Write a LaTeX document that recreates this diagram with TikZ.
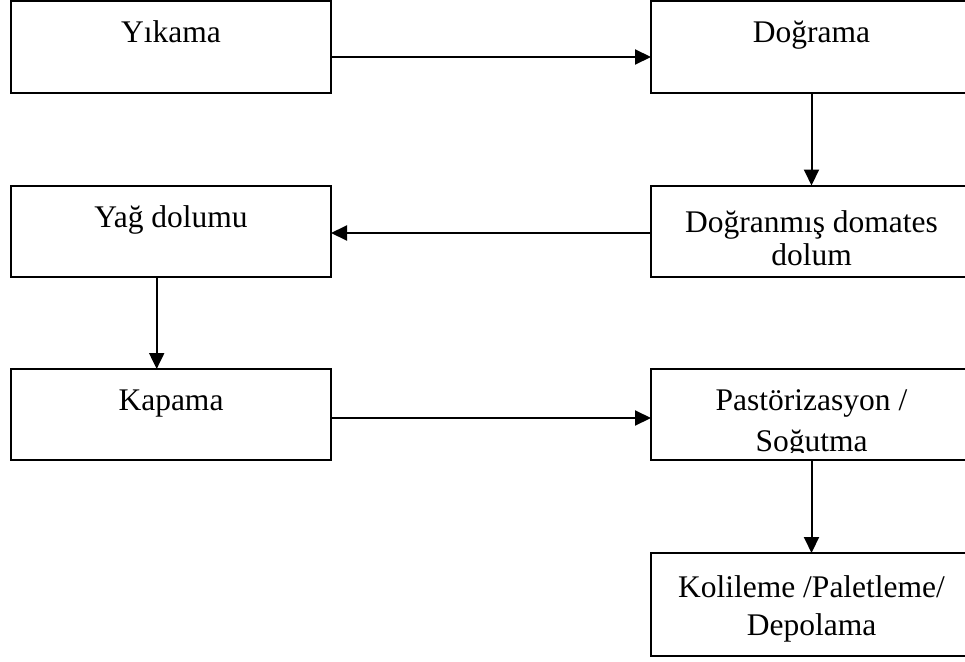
\documentclass[tikz,border=0pt]{standalone}
\usepackage{fontspec}
\setmainfont{Liberation Serif}
\usetikzlibrary{arrows.meta}
\begin{document}
\begin{tikzpicture}[x=1pt,y=-1pt,
  box/.style={draw=black,line width=2pt,rectangle,inner sep=0pt,outer sep=0pt,anchor=north west,minimum height=91pt},
  lbox/.style={box,minimum width=320pt},
  rbox/.style={box,minimum width=321pt},
  txt/.style={inner sep=0pt,anchor=base,font=\fontsize{31.5}{33}\selectfont},
  arr/.style={line width=2pt,-{Triangle[length=16pt,width=15pt]}}]
\useasboundingbox (0,0) rectangle (965,661);
\fill[white] (0,0) rectangle (965,661);
% boxes
\node[lbox] (yik) at (11,1.5) {};
\node[rbox] (dog) at (651,1.5) {};
\node[lbox] (yag) at (11,185.5) {};
\node[rbox] (dogd) at (651,185.5) {};
\node[lbox] (kap) at (11,369) {};
\node[rbox] (pas) at (651,369) {};
\node[rbox,minimum height=103pt] (kol) at (651,553) {};
% texts
\node[txt] (tyik) at (171,42) {Yıkama};
\node[txt] (tdog) at (811.5,42) {Doğrama};
\node[txt] (tyag) at (171,227) {Yağ dolumu};
\node[txt] (tdogda) at (811.5,232) {Doğranmış domates};
\node[txt] (tdogdb) at (811.5,265) {dolum};
\node[txt] (tkap) at (171,410) {Kapama};
\node[txt] (tpasa) at (811.5,410) {Pastörizasyon /};
\begin{scope}
\clip (640,369) rectangle (972,452.8);
\node[txt] (tpasb) at (811.5,451.5) {Soğutma};
\end{scope}
\node[txt] (tkola) at (811.5,597) {Kolileme /Paletleme/};
\node[txt] (tkolb) at (811.5,635.5) {Depolama};
% arrows
\draw[arr] ([yshift=-10pt]yik.east) -- ([yshift=-10pt]dog.west);
\draw[arr] (dog.south) -- (dogd.north);
\draw[arr] ([yshift=-2pt]dogd.west) -- ([yshift=-2pt]yag.east);
\draw[arr] ([xshift=-14.3pt]yag.south) -- ([xshift=-14.3pt]kap.north);
\draw[arr] ([yshift=-3.5pt]kap.east) -- ([yshift=-3.5pt]pas.west);
\draw[arr] (pas.south) -- (kol.north);
\end{tikzpicture}
\end{document}
